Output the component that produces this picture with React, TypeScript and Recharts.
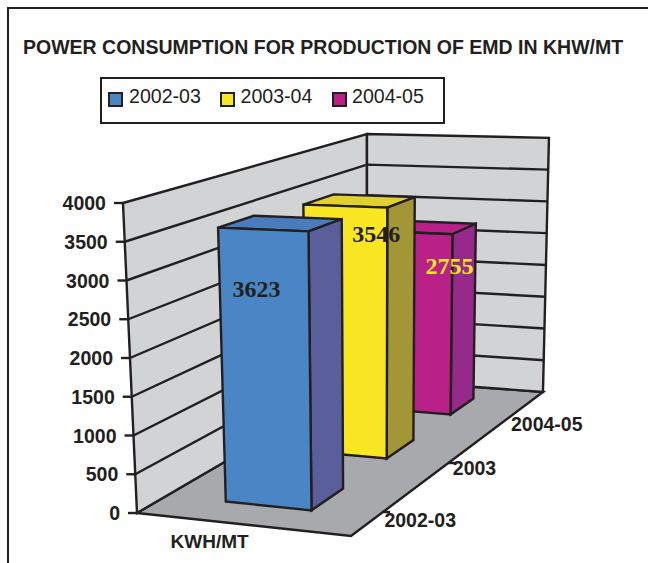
import React from 'react';
import { BarChart, Bar, XAxis, YAxis, Legend, Customized } from 'recharts';

const CATEGORIES = ['KWH/MT'];
const SERIES_NAMES = ['2002-03', '2003-04', '2004-05'];
const SERIES_VALUES = [3623, 3546, 2755];
const DEPTH_LABELS = ['2002-03', '2003', '2004-05'];
const Y_TICKS = [0, 500, 1000, 1500, 2000, 2500, 3000, 3500, 4000];
const Y_MAX = 4000;

const INK = '#231f20';
const FONT = '"Liberation Sans", Arial, sans-serif';
const WIDTH = 648;
const HEIGHT = 563;
const PLOT_TOP = 203;
const PLOT_BOTTOM = 513;
const PLOT_H = PLOT_BOTTOM - PLOT_TOP;
const LINE = 2.4;

// front, side and top colour for each column, plus where its value label sits
const COLUMN_STYLES = [
  { front: '#4a86c5', side: '#5a5f9c', top: '#4a7cbd', label: INK, dx: -52, dy: 66 },
  { front: '#f9e724', side: '#a39636', top: '#e0d030', label: INK, dx: -11, dy: 34 },
  { front: '#b92188', side: '#962a8a', top: '#b92188', label: '#ffe81f', dx: -3, dy: 40 },
];

// floor footprint of a column, as fractions of the floor width and depth
const COLUMN_U = [0.29, 0.7];
const COLUMN_DEPTH = 0.133;
const COLUMN_RISE = 0.99;
const depthCenter = (i: number) => (i + 0.5) / 3 + 0.006;

// perspective map of the floor: u runs across the front, v runs to the back wall
const project = (u: number, v: number, f = 0): [number, number] => {
  const w = -0.04547 * u + 0.2655 * v + 1;
  const x = (198.04 * u + 327.4 * v + 137) / w;
  const y = (-1.37 * u - 33.4 * v + 513) / w;
  const lean = (x - 367) * (x < 367 ? 0.061 : 0.034);
  return [x + lean * f, y - (PLOT_H / w) * f];
};

const pts = (list: [number, number][]) => list.map((p) => p.join(',')).join(' ');

const Walls = () => (
  <g stroke={INK} strokeWidth={LINE} strokeLinejoin="miter">
    <polygon points={pts([project(0, 0), project(1, 0), project(1, 1), project(0, 1)])} fill="#a7a9ac" />
    <polygon points={pts([project(0, 0), project(0, 1), project(0, 1, 1), project(0, 0, 1)])} fill="#d1d3d4" />
    <polygon points={pts([project(0, 1), project(1, 1), project(1, 1, 1), project(0, 1, 1)])} fill="#d1d3d4" />
    {Y_TICKS.slice(1, -1).map((t) => (
      <polyline
        key={t}
        fill="none"
        points={pts([project(0, 0, t / Y_MAX), project(0, 1, t / Y_MAX), project(1, 1, t / Y_MAX)])}
      />
    ))}
    {/* depth axis ticks and labels along the right edge of the floor */}
    <line x1={382} y1={512} x2={390} y2={512} />
    <line x1={448} y1={463} x2={456} y2={463} />
    {DEPTH_LABELS.map((label, i) => {
      const [x, y] = project(1, depthCenter(i));
      return (
        <text
          key={label}
          x={x - 7}
          y={y + 21 - i * 0.5}
          stroke="none"
          fill={INK}
          fontFamily={FONT}
          fontWeight="bold"
          fontSize={19.5}
        >
          {label}
        </text>
      );
    })}
  </g>
);

const Column = (props: any) => {
  const { height, index, value } = props;
  const style = COLUMN_STYLES[index];
  const f = (height / PLOT_H) * COLUMN_RISE;
  const v0 = depthCenter(index) - COLUMN_DEPTH / 2;
  const v1 = v0 + COLUMN_DEPTH;
  const [u0, u1] = COLUMN_U;
  const frontTopRight = project(u1, v0, f);
  return (
    <g stroke={INK} strokeWidth={LINE} strokeLinejoin="miter">
      <polygon
        points={pts([project(u0, v0, f), project(u1, v0, f), project(u1, v1, f), project(u0, v1, f)])}
        fill={style.top}
      />
      <polygon
        points={pts([project(u1, v0), project(u1, v1), project(u1, v1, f), project(u1, v0, f)])}
        fill={style.side}
      />
      <polygon
        points={pts([project(u0, v0), project(u1, v0), project(u1, v0, f), project(u0, v0, f)])}
        fill={style.front}
      />
      <text
        x={frontTopRight[0] + style.dx}
        y={frontTopRight[1] + style.dy}
        textAnchor="middle"
        stroke="none"
        fill={style.label}
        fontFamily='"Liberation Serif", serif'
        fontWeight="bold"
        fontSize={24}
      >
        {value}
      </text>
    </g>
  );
};

const ValueTick = (props: any) => {
  const { y, payload } = props;
  const f = (PLOT_BOTTOM - y) / PLOT_H;
  const [x] = project(0, 0, f);
  return (
    <g>
      <line x1={x - 9} y1={y} x2={x} y2={y} stroke={INK} strokeWidth={LINE} />
      <text x={x - 17} y={y + 7} textAnchor="end" fill={INK} fontFamily={FONT} fontWeight="bold" fontSize={19.5}>
        {payload.value}
      </text>
    </g>
  );
};

const CategoryTick = (props: any) => {
  const [x, y] = project(0.35, 0);
  return (
    <text x={x} y={y + 27} textAnchor="middle" fill={INK} fontFamily={FONT} fontWeight="bold" fontSize={19}>
      {props.payload.value}
    </text>
  );
};

const LegendBox = (props: any) => (
  <div
    style={{
      boxSizing: 'border-box',
      width: 345,
      height: 47,
      border: `2px solid ${INK}`,
      background: '#fff',
      fontFamily: FONT,
      fontSize: 19.6,
      color: INK,
      position: 'relative',
    }}
  >
    {props.payload.map((item: any, i: number) => (
      <div key={item.value}>
        <span
          style={{
            position: 'absolute',
            left: 6 + i * 112,
            top: 13,
            width: 15,
            height: 15,
            boxSizing: 'border-box',
            border: `2px solid ${INK}`,
            background: item.color,
          }}
        />
        <span style={{ position: 'absolute', left: 27 + i * 111.5, top: 5, lineHeight: '24px' }}>{item.value}</span>
      </div>
    ))}
  </div>
);

export default function App() {
  // one row holding every series; each series draws in its own depth slot, back row first
  const row: Record<string, string | number> = { category: CATEGORIES[0] };
  SERIES_NAMES.forEach((name, i) => {
    row[name] = SERIES_VALUES[i];
  });
  const order = [2, 1, 0];

  return (
    <div style={{ position: 'absolute', left: 0, top: 0, width: WIDTH, height: HEIGHT, background: '#fff', overflow: 'hidden' }}>
      <div
        style={{
          position: 'absolute',
          left: 7,
          top: 7,
          width: WIDTH,
          height: HEIGHT,
          borderLeft: `2px solid ${INK}`,
          borderTop: `2px solid ${INK}`,
        }}
      />
      <div
        style={{
          position: 'absolute',
          left: 23,
          top: 36,
          fontFamily: FONT,
          fontWeight: 'bold',
          fontSize: 19.5,
          lineHeight: '22px',
          color: INK,
          whiteSpace: 'nowrap',
        }}
      >
        POWER CONSUMPTION FOR PRODUCTION OF EMD IN KHW/MT
      </div>
      <BarChart
        width={WIDTH}
        height={HEIGHT}
        data={[row]}
        margin={{ top: PLOT_TOP, right: 99, bottom: 20, left: 63 }}
        style={{ position: 'absolute', left: 0, top: 0 }}
      >
        <Customized component={Walls} />
        <XAxis dataKey="category" axisLine={false} tickLine={false} height={30} tick={<CategoryTick />} />
        <YAxis
          width={60}
          domain={[0, Y_MAX]}
          ticks={Y_TICKS}
          interval={0}
          axisLine={false}
          tickLine={false}
          tick={<ValueTick />}
        />
        <Legend
          layout="horizontal"
          verticalAlign="middle"
          align="center"
          content={<LegendBox />}
          wrapperStyle={{ position: 'absolute', left: 100, top: 77, width: 345, height: 47 }}
        />
        {order.map((i) => (
          <Bar
            key={SERIES_NAMES[i]}
            dataKey={SERIES_NAMES[i]}
            name={SERIES_NAMES[i]}
            fill={COLUMN_STYLES[i].front}
            isAnimationActive={false}
            shape={(p: any) => <Column {...p} index={i} value={SERIES_VALUES[i]} />}
          />
        ))}
      </BarChart>
    </div>
  );
}
